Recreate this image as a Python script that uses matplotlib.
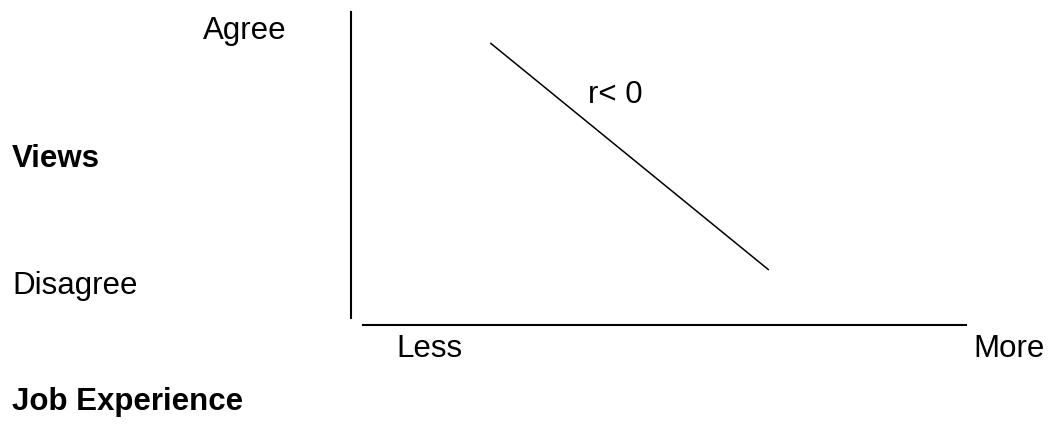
import matplotlib
matplotlib.use("Agg")
import matplotlib.pyplot as plt

# Data: conceptual negative correlation (experience vs views), in normalised axis units
experience = [0.211, 0.673]
views = [0.899, 0.157]
x_labels = ["Less", "More"]
y_labels = ["Agree", "Disagree"]
x_title = "Job Experience"
y_title = "Views"
annotation = "r< 0"

W, H = 1048, 425
DPI = 100
plt.rcParams['font.family'] = ['Liberation Sans', 'DejaVu Sans']
FS = 22.5

fig = plt.figure(figsize=(W / DPI, H / DPI), dpi=DPI)
fig.patch.set_facecolor('white')

ax = fig.add_axes([363 / W, (H - 318) / H, (966 - 363) / W, (318 - 12) / H])
ax.set_xlim(0, 1)
ax.set_ylim(0, 1)
ax.patch.set_alpha(0)
for s in ['top', 'right']:
    ax.spines[s].set_visible(False)
ax.spines['left'].set_position(('outward', 12 * 72 / DPI))
ax.spines['bottom'].set_position(('outward', 7 * 72 / DPI))
ax.spines['left'].set_linewidth(1.5)
ax.spines['bottom'].set_linewidth(1.5)
ax.set_xticks([])
ax.set_yticks([])

ax.plot(experience, views, color='black', linewidth=1.1, solid_capstyle='butt')


def ptext(x, y, s, **kw):
    fig.text(x / W, 1 - y / H, s, fontsize=FS, va='baseline', ha='left', color='black', **kw)


ptext(203, 39, y_labels[0])
ptext(12, 294, y_labels[1])
ptext(12, 167, y_title, fontweight='bold')
ptext(396, 357, x_labels[0])
ptext(973, 357, x_labels[1])
ptext(12, 410, x_title, fontweight='bold')
ptext(588, 103, annotation)

fig.savefig('out.png', dpi=DPI, facecolor='white')
